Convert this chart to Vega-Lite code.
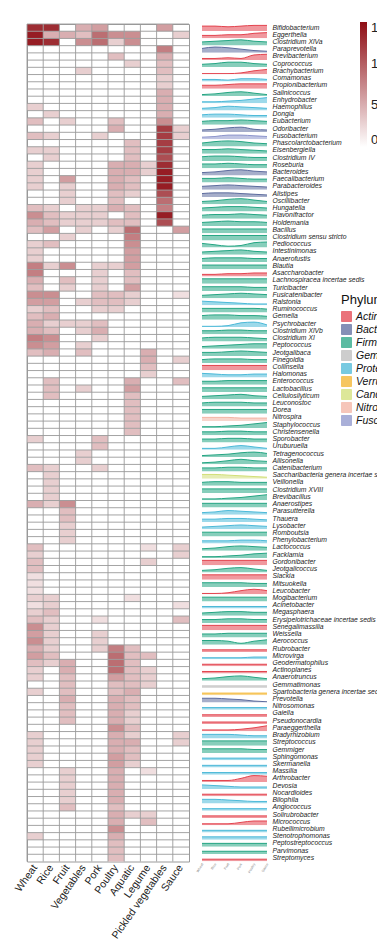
{
"$schema": "https://vega.github.io/schema/vega-lite/v6.json",
"background": "white",
"padding": {"left": 12, "top": 21, "right": 0, "bottom": 0},
"bounds": "flush",
"spacing": 13,
"datasets": {
"ridges": [
{"i":0,"g":"Bifidobacterium","p":"Actinobacteria","a":7,"b":7,"c":6,"d":7,"e":8,"f":8},
{"i":1,"g":"Eggerthella","p":"Actinobacteria","a":4,"b":4,"c":5,"d":5,"e":7,"f":8},
{"i":2,"g":"Clostridium XlVa","p":"Firmicutes","a":5,"b":6,"c":7,"d":8,"e":6,"f":5},
{"i":3,"g":"Paraprevotella","p":"Bacteroidetes","a":6,"b":8,"c":7,"d":5,"e":3,"f":2},
{"i":4,"g":"Brevibacterium","p":"Actinobacteria","a":2,"b":2,"c":3,"d":2,"e":7,"f":8},
{"i":5,"g":"Coprococcus","p":"Firmicutes","a":4,"b":5,"c":7,"d":7,"e":5,"f":4},
{"i":6,"g":"Brachybacterium","p":"Actinobacteria","a":1,"b":1,"c":1,"d":2,"e":5,"f":7},
{"i":7,"g":"Comamonas","p":"Proteobacteria","a":3,"b":3,"c":2,"d":4,"e":4,"f":3},
{"i":8,"g":"Propionibacterium","p":"Actinobacteria","a":5,"b":5,"c":6,"d":7,"e":7,"f":7},
{"i":9,"g":"Salinicoccus","p":"Firmicutes","a":2,"b":3,"c":5,"d":6,"e":4,"f":2},
{"i":10,"g":"Enhydrobacter","p":"Proteobacteria","a":2,"b":2,"c":3,"d":4,"e":6,"f":8},
{"i":11,"g":"Haemophilus","p":"Proteobacteria","a":3,"b":4,"c":6,"d":5,"e":4,"f":3},
{"i":12,"g":"Dongia","p":"Proteobacteria","a":4,"b":5,"c":5,"d":4,"e":3,"f":3},
{"i":13,"g":"Eubacterium","p":"Firmicutes","a":5,"b":6,"c":6,"d":7,"e":6,"f":5},
{"i":14,"g":"Odoribacter","p":"Bacteroidetes","a":3,"b":4,"c":6,"d":7,"e":4,"f":3},
{"i":15,"g":"Fusobacterium","p":"Fusobacteria","a":3,"b":4,"c":6,"d":6,"e":5,"f":4},
{"i":16,"g":"Phascolarctobacterium","p":"Firmicutes","a":5,"b":7,"c":8,"d":7,"e":5,"f":4},
{"i":17,"g":"Eisenbergiella","p":"Firmicutes","a":6,"b":6,"c":7,"d":6,"e":5,"f":4},
{"i":18,"g":"Clostridium IV","p":"Firmicutes","a":6,"b":7,"c":7,"d":6,"e":5,"f":5},
{"i":19,"g":"Roseburia","p":"Firmicutes","a":6,"b":6,"c":7,"d":6,"e":5,"f":5},
{"i":20,"g":"Bacteroides","p":"Bacteroidetes","a":4,"b":5,"c":7,"d":8,"e":6,"f":5},
{"i":21,"g":"Faecalibacterium","p":"Firmicutes","a":6,"b":6,"c":7,"d":6,"e":5,"f":5},
{"i":22,"g":"Parabacteroides","p":"Bacteroidetes","a":5,"b":6,"c":7,"d":6,"e":5,"f":4},
{"i":23,"g":"Alistipes","p":"Bacteroidetes","a":5,"b":6,"c":6,"d":5,"e":4,"f":3},
{"i":24,"g":"Oscillibacter","p":"Firmicutes","a":4,"b":5,"c":7,"d":8,"e":6,"f":4},
{"i":25,"g":"Hungatella","p":"Firmicutes","a":5,"b":6,"c":7,"d":7,"e":6,"f":5},
{"i":26,"g":"Flavonifractor","p":"Firmicutes","a":5,"b":6,"c":6,"d":7,"e":6,"f":5},
{"i":27,"g":"Holdemania","p":"Firmicutes","a":5,"b":6,"c":7,"d":6,"e":6,"f":5},
{"i":28,"g":"Bacillus","p":"Firmicutes","a":6,"b":6,"c":6,"d":6,"e":6,"f":6},
{"i":29,"g":"Clostridium sensu  stricto","p":"Firmicutes","a":7,"b":7,"c":7,"d":7,"e":7,"f":7},
{"i":30,"g":"Pediococcus","p":"Firmicutes","a":6,"b":4,"c":2,"d":3,"e":7,"f":8},
{"i":31,"g":"Intestinimonas","p":"Firmicutes","a":4,"b":5,"c":6,"d":7,"e":5,"f":4},
{"i":32,"g":"Anaerofustis","p":"Firmicutes","a":5,"b":6,"c":6,"d":6,"e":5,"f":5},
{"i":33,"g":"Blautia","p":"Firmicutes","a":6,"b":6,"c":6,"d":6,"e":6,"f":6},
{"i":34,"g":"Asaccharobacter","p":"Actinobacteria","a":3,"b":3,"c":4,"d":4,"e":5,"f":5},
{"i":35,"g":"Lachnospiracea  incertae sedis","p":"Firmicutes","a":7,"b":7,"c":7,"d":7,"e":7,"f":7},
{"i":36,"g":"Turicibacter","p":"Firmicutes","a":6,"b":6,"c":6,"d":6,"e":5,"f":5},
{"i":37,"g":"Fusicatenibacter","p":"Firmicutes","a":4,"b":5,"c":6,"d":7,"e":6,"f":5},
{"i":38,"g":"Ralstonia","p":"Proteobacteria","a":6,"b":5,"c":4,"d":3,"e":2,"f":2},
{"i":39,"g":"Ruminococcus","p":"Firmicutes","a":6,"b":6,"c":6,"d":6,"e":6,"f":5},
{"i":40,"g":"Gemella","p":"Firmicutes","a":6,"b":7,"c":7,"d":6,"e":6,"f":5},
{"i":41,"g":"Psychrobacter","p":"Proteobacteria","a":1,"b":1,"c":2,"d":6,"e":7,"f":3},
{"i":42,"g":"Clostridium XlVb","p":"Firmicutes","a":5,"b":5,"c":6,"d":6,"e":5,"f":5},
{"i":43,"g":"Clostridium XI","p":"Firmicutes","a":5,"b":6,"c":6,"d":6,"e":5,"f":4},
{"i":44,"g":"Peptococcus","p":"Firmicutes","a":3,"b":4,"c":5,"d":6,"e":7,"f":7},
{"i":45,"g":"Jeotgalibaca","p":"Firmicutes","a":5,"b":5,"c":6,"d":7,"e":6,"f":5},
{"i":46,"g":"Finegoldia","p":"Firmicutes","a":5,"b":6,"c":6,"d":6,"e":5,"f":5},
{"i":47,"g":"Collinsella","p":"Actinobacteria","a":7,"b":7,"c":7,"d":7,"e":7,"f":7},
{"i":48,"g":"Halomonas","p":"Proteobacteria","a":6,"b":5,"c":4,"d":4,"e":5,"f":5},
{"i":49,"g":"Enterococcus","p":"Firmicutes","a":5,"b":5,"c":6,"d":6,"e":6,"f":6},
{"i":50,"g":"Lactobacillus","p":"Firmicutes","a":6,"b":6,"c":6,"d":6,"e":6,"f":6},
{"i":51,"g":"Cellulosilyticum","p":"Firmicutes","a":4,"b":5,"c":6,"d":7,"e":5,"f":4},
{"i":52,"g":"Leuconostoc","p":"Firmicutes","a":5,"b":6,"c":6,"d":6,"e":5,"f":5},
{"i":53,"g":"Dorea","p":"Firmicutes","a":6,"b":6,"c":6,"d":6,"e":6,"f":6},
{"i":54,"g":"Nitrospira","p":"Nitrospirae","a":5,"b":5,"c":5,"d":4,"e":4,"f":4},
{"i":55,"g":"Staphylococcus","p":"Firmicutes","a":2,"b":2,"c":3,"d":4,"e":6,"f":8},
{"i":56,"g":"Christensenella","p":"Firmicutes","a":5,"b":5,"c":6,"d":6,"e":5,"f":5},
{"i":57,"g":"Sporobacter","p":"Firmicutes","a":5,"b":5,"c":6,"d":6,"e":5,"f":5},
{"i":58,"g":"Uruburuella","p":"Proteobacteria","a":2,"b":2,"c":4,"d":6,"e":4,"f":2},
{"i":59,"g":"Tetragenococcus","p":"Firmicutes","a":2,"b":3,"c":4,"d":6,"e":7,"f":5},
{"i":60,"g":"Allisonella","p":"Firmicutes","a":2,"b":3,"c":5,"d":7,"e":5,"f":4},
{"i":61,"g":"Catenibacterium","p":"Firmicutes","a":5,"b":5,"c":6,"d":6,"e":5,"f":5},
{"i":62,"g":"Saccharibacteria  genera  incertae sedis","p":"Candidatus Saccharibacteria","a":6,"b":6,"c":5,"d":4,"e":3,"f":2},
{"i":63,"g":"Veillonella","p":"Firmicutes","a":5,"b":6,"c":6,"d":5,"e":5,"f":5},
{"i":64,"g":"Clostridium XVIII","p":"Firmicutes","a":6,"b":6,"c":6,"d":6,"e":6,"f":6},
{"i":65,"g":"Brevibacillus","p":"Firmicutes","a":2,"b":2,"c":3,"d":4,"e":6,"f":8},
{"i":66,"g":"Anaerostipes","p":"Firmicutes","a":6,"b":6,"c":6,"d":6,"e":6,"f":6},
{"i":67,"g":"Parasutterella","p":"Proteobacteria","a":3,"b":4,"c":6,"d":5,"e":4,"f":3},
{"i":68,"g":"Thauera","p":"Proteobacteria","a":4,"b":4,"c":5,"d":5,"e":4,"f":3},
{"i":69,"g":"Lysobacter","p":"Proteobacteria","a":3,"b":4,"c":5,"d":6,"e":5,"f":4},
{"i":70,"g":"Romboutsia","p":"Firmicutes","a":6,"b":6,"c":6,"d":6,"e":6,"f":6},
{"i":71,"g":"Phenylobacterium","p":"Proteobacteria","a":4,"b":4,"c":4,"d":5,"e":5,"f":4},
{"i":72,"g":"Lactococcus","p":"Firmicutes","a":3,"b":4,"c":6,"d":7,"e":6,"f":5},
{"i":73,"g":"Facklamia","p":"Firmicutes","a":2,"b":2,"c":3,"d":4,"e":6,"f":7},
{"i":74,"g":"Gordonibacter","p":"Actinobacteria","a":7,"b":7,"c":7,"d":7,"e":7,"f":7},
{"i":75,"g":"Jeotgalicoccus","p":"Firmicutes","a":3,"b":4,"c":6,"d":7,"e":5,"f":3},
{"i":76,"g":"Slackia","p":"Actinobacteria","a":7,"b":7,"c":7,"d":7,"e":7,"f":7},
{"i":77,"g":"Mitsuokella","p":"Firmicutes","a":6,"b":6,"c":6,"d":6,"e":5,"f":5},
{"i":78,"g":"Leucobacter","p":"Actinobacteria","a":1,"b":1,"c":2,"d":5,"e":7,"f":5},
{"i":79,"g":"Mogibacterium","p":"Firmicutes","a":6,"b":6,"c":6,"d":6,"e":6,"f":6},
{"i":80,"g":"Acinetobacter","p":"Proteobacteria","a":3,"b":3,"c":3,"d":3,"e":3,"f":3},
{"i":81,"g":"Megasphaera","p":"Firmicutes","a":4,"b":5,"c":6,"d":6,"e":5,"f":5},
{"i":82,"g":"Erysipelotrichaceae  incertae  sedis","p":"Firmicutes","a":5,"b":5,"c":6,"d":6,"e":5,"f":5},
{"i":83,"g":"Senegalimassilia","p":"Actinobacteria","a":7,"b":7,"c":7,"d":7,"e":7,"f":7},
{"i":84,"g":"Weissella","p":"Firmicutes","a":5,"b":5,"c":6,"d":6,"e":6,"f":6},
{"i":85,"g":"Aerococcus","p":"Firmicutes","a":6,"b":6,"c":5,"d":2,"e":5,"f":7},
{"i":86,"g":"Rubrobacter","p":"Actinobacteria","a":3,"b":3,"c":3,"d":3,"e":3,"f":3},
{"i":87,"g":"Microvirga","p":"Proteobacteria","a":2,"b":2,"c":2,"d":2,"e":3,"f":3},
{"i":88,"g":"Geodermatophilus","p":"Actinobacteria","a":3,"b":3,"c":3,"d":3,"e":3,"f":3},
{"i":89,"g":"Actinoplanes","p":"Actinobacteria","a":3,"b":3,"c":3,"d":3,"e":3,"f":3},
{"i":90,"g":"Anaerotruncus","p":"Firmicutes","a":3,"b":4,"c":6,"d":7,"e":5,"f":3},
{"i":91,"g":"Gemmatimonas","p":"Gemmatimonadetes","a":3,"b":3,"c":3,"d":3,"e":3,"f":3},
{"i":92,"g":"Spartobacteria  genera  incertae  sedis","p":"Verrucomicrobia","a":3,"b":3,"c":3,"d":3,"e":3,"f":3},
{"i":93,"g":"Prevotella","p":"Bacteroidetes","a":6,"b":6,"c":5,"d":4,"e":2,"f":1},
{"i":94,"g":"Nitrosomonas","p":"Proteobacteria","a":3,"b":3,"c":3,"d":3,"e":3,"f":3},
{"i":95,"g":"Gaiella","p":"Actinobacteria","a":3,"b":3,"c":3,"d":3,"e":3,"f":3},
{"i":96,"g":"Pseudonocardia","p":"Actinobacteria","a":3,"b":3,"c":3,"d":3,"e":3,"f":3},
{"i":97,"g":"Paraeggerthella","p":"Actinobacteria","a":2,"b":2,"c":2,"d":3,"e":5,"f":8},
{"i":98,"g":"Bradyrhizobium","p":"Proteobacteria","a":6,"b":6,"c":6,"d":5,"e":4,"f":4},
{"i":99,"g":"Streptococcus","p":"Firmicutes","a":7,"b":7,"c":7,"d":7,"e":7,"f":7},
{"i":100,"g":"Gemmiger","p":"Firmicutes","a":6,"b":6,"c":6,"d":6,"e":5,"f":5},
{"i":101,"g":"Sphingomonas","p":"Proteobacteria","a":3,"b":3,"c":3,"d":3,"e":3,"f":3},
{"i":102,"g":"Skermanella","p":"Proteobacteria","a":3,"b":3,"c":3,"d":3,"e":3,"f":3},
{"i":103,"g":"Massilia","p":"Proteobacteria","a":3,"b":3,"c":3,"d":3,"e":3,"f":3},
{"i":104,"g":"Arthrobacter","p":"Actinobacteria","a":2,"b":2,"c":2,"d":5,"e":9,"f":8},
{"i":105,"g":"Devosia","p":"Proteobacteria","a":6,"b":5,"c":4,"d":3,"e":3,"f":3},
{"i":106,"g":"Nocardioides","p":"Actinobacteria","a":3,"b":3,"c":3,"d":3,"e":3,"f":3},
{"i":107,"g":"Bilophila","p":"Proteobacteria","a":6,"b":6,"c":5,"d":4,"e":3,"f":3},
{"i":108,"g":"Angiococcus","p":"Proteobacteria","a":3,"b":3,"c":3,"d":3,"e":3,"f":3},
{"i":109,"g":"Solirubrobacter","p":"Actinobacteria","a":3,"b":3,"c":3,"d":3,"e":3,"f":3},
{"i":110,"g":"Micrococcus","p":"Actinobacteria","a":2,"b":2,"c":2,"d":4,"e":6,"f":6},
{"i":111,"g":"Rubellimicrobium","p":"Proteobacteria","a":3,"b":3,"c":3,"d":3,"e":3,"f":3},
{"i":112,"g":"Stenotrophomonas","p":"Proteobacteria","a":4,"b":4,"c":4,"d":4,"e":4,"f":4},
{"i":113,"g":"Peptostreptococcus","p":"Firmicutes","a":5,"b":5,"c":5,"d":5,"e":5,"f":5},
{"i":114,"g":"Parvimonas","p":"Firmicutes","a":4,"b":4,"c":4,"d":4,"e":4,"f":4},
{"i":115,"g":"Streptomyces","p":"Actinobacteria","a":3,"b":3,"c":3,"d":3,"e":3,"f":3}
],
"cells": [
{"i":0,"f":"Wheat","v":13},{"i":0,"f":"Rice","v":13},{"i":0,"f":"Vegetables","v":5},{"i":0,"f":"Pork","v":6},{"i":0,"f":"Pickled vegetables","v":6},
{"i":1,"f":"Wheat","v":14},{"i":1,"f":"Rice","v":5},{"i":1,"f":"Fruit","v":5},{"i":1,"f":"Vegetables","v":4},{"i":1,"f":"Pork","v":9},{"i":1,"f":"Poultry","v":7},{"i":1,"f":"Aquatic","v":7},{"i":1,"f":"Sauce","v":3},
{"i":2,"f":"Wheat","v":14},{"i":2,"f":"Rice","v":13},{"i":2,"f":"Vegetables","v":7},{"i":2,"f":"Pork","v":9},{"i":2,"f":"Poultry","v":3},{"i":2,"f":"Aquatic","v":7},
{"i":3,"f":"Pickled vegetables","v":8},
{"i":4,"f":"Poultry","v":4},{"i":4,"f":"Pickled vegetables","v":5},
{"i":5,"f":"Aquatic","v":3},{"i":5,"f":"Pickled vegetables","v":4},
{"i":6,"f":"Vegetables","v":3},{"i":6,"f":"Pickled vegetables","v":4},
{"i":7,"f":"Pickled vegetables","v":3},
{"i":8,"f":"Pickled vegetables","v":3},
{"i":9,"f":"Pickled vegetables","v":5},
{"i":10,"f":"Pickled vegetables","v":5},
{"i":11,"f":"Wheat","v":3},{"i":11,"f":"Pickled vegetables","v":5},
{"i":12,"f":"Rice","v":3},{"i":12,"f":"Pickled vegetables","v":5},
{"i":13,"f":"Wheat","v":4},{"i":13,"f":"Fruit","v":3},{"i":13,"f":"Poultry","v":4},{"i":13,"f":"Pickled vegetables","v":7},
{"i":14,"f":"Poultry","v":5},{"i":14,"f":"Pickled vegetables","v":12},{"i":14,"f":"Sauce","v":3},
{"i":15,"f":"Wheat","v":4},{"i":15,"f":"Rice","v":3},{"i":15,"f":"Pork","v":3},{"i":15,"f":"Pickled vegetables","v":12},{"i":15,"f":"Sauce","v":3},
{"i":16,"f":"Aquatic","v":4},{"i":16,"f":"Pickled vegetables","v":12},
{"i":17,"f":"Wheat","v":3},{"i":17,"f":"Rice","v":3},{"i":17,"f":"Aquatic","v":4},{"i":17,"f":"Pickled vegetables","v":12},
{"i":18,"f":"Rice","v":3},{"i":18,"f":"Aquatic","v":4},{"i":18,"f":"Pickled vegetables","v":11},
{"i":19,"f":"Wheat","v":3},{"i":19,"f":"Poultry","v":5},{"i":19,"f":"Aquatic","v":5},{"i":19,"f":"Legume","v":3},{"i":19,"f":"Pickled vegetables","v":13},
{"i":20,"f":"Wheat","v":3},{"i":20,"f":"Poultry","v":5},{"i":20,"f":"Aquatic","v":5},{"i":20,"f":"Legume","v":3},{"i":20,"f":"Pickled vegetables","v":14},
{"i":21,"f":"Wheat","v":3},{"i":21,"f":"Fruit","v":6},{"i":21,"f":"Poultry","v":5},{"i":21,"f":"Aquatic","v":4},{"i":21,"f":"Pickled vegetables","v":14},
{"i":22,"f":"Wheat","v":3},{"i":22,"f":"Fruit","v":3},{"i":22,"f":"Poultry","v":5},{"i":22,"f":"Aquatic","v":4},{"i":22,"f":"Pickled vegetables","v":14},
{"i":23,"f":"Fruit","v":3},{"i":23,"f":"Poultry","v":4},{"i":23,"f":"Aquatic","v":3},{"i":23,"f":"Pickled vegetables","v":11},
{"i":24,"f":"Fruit","v":3},{"i":24,"f":"Poultry","v":4},{"i":24,"f":"Pickled vegetables","v":9},
{"i":25,"f":"Wheat","v":4},{"i":25,"f":"Rice","v":3},{"i":25,"f":"Vegetables","v":3},{"i":25,"f":"Pork","v":3},{"i":25,"f":"Poultry","v":5},{"i":25,"f":"Aquatic","v":4},{"i":25,"f":"Pickled vegetables","v":8},
{"i":26,"f":"Wheat","v":7},{"i":26,"f":"Rice","v":4},{"i":26,"f":"Fruit","v":3},{"i":26,"f":"Vegetables","v":3},{"i":26,"f":"Pork","v":3},{"i":26,"f":"Aquatic","v":4},{"i":26,"f":"Pickled vegetables","v":14},
{"i":27,"f":"Wheat","v":5},{"i":27,"f":"Rice","v":4},{"i":27,"f":"Fruit","v":3},{"i":27,"f":"Vegetables","v":3},{"i":27,"f":"Pork","v":3},{"i":27,"f":"Poultry","v":4},{"i":27,"f":"Aquatic","v":4},{"i":27,"f":"Pickled vegetables","v":11},
{"i":28,"f":"Wheat","v":4},{"i":28,"f":"Rice","v":6},{"i":28,"f":"Vegetables","v":3},{"i":28,"f":"Poultry","v":3},{"i":28,"f":"Aquatic","v":9},{"i":28,"f":"Sauce","v":6},
{"i":29,"f":"Fruit","v":3},{"i":29,"f":"Aquatic","v":8},
{"i":30,"f":"Wheat","v":3},{"i":30,"f":"Rice","v":4},{"i":30,"f":"Aquatic","v":7},
{"i":31,"f":"Wheat","v":3},{"i":31,"f":"Aquatic","v":6},
{"i":32,"f":"Wheat","v":3},{"i":32,"f":"Aquatic","v":6},
{"i":33,"f":"Wheat","v":8},{"i":33,"f":"Rice","v":3},{"i":33,"f":"Fruit","v":7},{"i":33,"f":"Pork","v":3},{"i":33,"f":"Poultry","v":3},{"i":33,"f":"Aquatic","v":6},
{"i":34,"f":"Wheat","v":8},{"i":34,"f":"Pork","v":3},{"i":34,"f":"Aquatic","v":4},
{"i":35,"f":"Wheat","v":5},{"i":35,"f":"Fruit","v":4},{"i":35,"f":"Pork","v":3},{"i":35,"f":"Aquatic","v":4},
{"i":36,"f":"Wheat","v":4},{"i":36,"f":"Fruit","v":3},{"i":36,"f":"Pork","v":3},{"i":36,"f":"Aquatic","v":6},
{"i":37,"f":"Wheat","v":7},{"i":37,"f":"Rice","v":7},{"i":37,"f":"Pork","v":4},{"i":37,"f":"Poultry","v":4},{"i":37,"f":"Aquatic","v":3},{"i":37,"f":"Sauce","v":2},
{"i":38,"f":"Wheat","v":6},{"i":38,"f":"Rice","v":6},{"i":38,"f":"Vegetables","v":3},{"i":38,"f":"Pork","v":4},{"i":38,"f":"Poultry","v":4},{"i":38,"f":"Aquatic","v":3},
{"i":39,"f":"Wheat","v":3},{"i":39,"f":"Rice","v":4},{"i":39,"f":"Pork","v":3},{"i":39,"f":"Poultry","v":3},
{"i":40,"f":"Wheat","v":4},{"i":40,"f":"Rice","v":5},
{"i":41,"f":"Wheat","v":5},{"i":41,"f":"Rice","v":3},{"i":41,"f":"Fruit","v":3},{"i":41,"f":"Vegetables","v":3},{"i":41,"f":"Pork","v":4},
{"i":42,"f":"Wheat","v":5},{"i":42,"f":"Rice","v":4},{"i":42,"f":"Vegetables","v":3},{"i":42,"f":"Pork","v":5},
{"i":43,"f":"Wheat","v":8},{"i":43,"f":"Rice","v":7},{"i":43,"f":"Pork","v":3},
{"i":44,"f":"Wheat","v":7},{"i":44,"f":"Rice","v":6},{"i":44,"f":"Vegetables","v":3},
{"i":45,"f":"Wheat","v":4},{"i":45,"f":"Rice","v":5},{"i":45,"f":"Vegetables","v":4},{"i":45,"f":"Legume","v":5},
{"i":46,"f":"Legume","v":5},{"i":46,"f":"Sauce","v":3},
{"i":47,"f":"Legume","v":4},
{"i":48,"f":"Legume","v":3},
{"i":49,"f":"Rice","v":4},{"i":49,"f":"Aquatic","v":5},{"i":49,"f":"Sauce","v":4},
{"i":50,"f":"Rice","v":4},{"i":50,"f":"Vegetables","v":3},{"i":50,"f":"Aquatic","v":6},
{"i":51,"f":"Rice","v":4},{"i":51,"f":"Aquatic","v":4},
{"i":52,"f":"Aquatic","v":4},{"i":53,"f":"Aquatic","v":4},{"i":54,"f":"Aquatic","v":4},{"i":55,"f":"Aquatic","v":4},{"i":56,"f":"Aquatic","v":4},
{"i":57,"f":"Wheat","v":3},{"i":57,"f":"Pork","v":4},
{"i":58,"f":"Pork","v":4},
{"i":59,"f":"Vegetables","v":3},
{"i":60,"f":"Vegetables","v":3},
{"i":61,"f":"Wheat","v":4},{"i":61,"f":"Rice","v":3},{"i":61,"f":"Pork","v":3},
{"i":62,"f":"Rice","v":3},{"i":63,"f":"Rice","v":3},{"i":64,"f":"Rice","v":3},{"i":65,"f":"Rice","v":3},
{"i":66,"f":"Wheat","v":5},{"i":66,"f":"Rice","v":3},{"i":66,"f":"Fruit","v":7},
{"i":67,"f":"Fruit","v":4},{"i":68,"f":"Fruit","v":4},{"i":69,"f":"Fruit","v":3},{"i":70,"f":"Fruit","v":3},{"i":71,"f":"Fruit","v":3},
{"i":72,"f":"Wheat","v":4},{"i":72,"f":"Legume","v":2},{"i":72,"f":"Sauce","v":3},
{"i":73,"f":"Wheat","v":3},{"i":73,"f":"Sauce","v":3},
{"i":74,"f":"Wheat","v":4},{"i":74,"f":"Legume","v":3},
{"i":75,"f":"Wheat","v":4},
{"i":76,"f":"Wheat","v":2},{"i":77,"f":"Wheat","v":2},{"i":78,"f":"Wheat","v":2},
{"i":79,"f":"Wheat","v":3},{"i":79,"f":"Rice","v":3},{"i":79,"f":"Aquatic","v":2},
{"i":80,"f":"Wheat","v":2},{"i":80,"f":"Rice","v":3},{"i":80,"f":"Sauce","v":2},
{"i":81,"f":"Wheat","v":3},{"i":81,"f":"Rice","v":4},
{"i":82,"f":"Wheat","v":4},{"i":82,"f":"Rice","v":3},{"i":82,"f":"Pork","v":2},{"i":82,"f":"Sauce","v":4},
{"i":83,"f":"Wheat","v":7},{"i":83,"f":"Rice","v":3},
{"i":84,"f":"Wheat","v":6},{"i":84,"f":"Rice","v":3},{"i":84,"f":"Pork","v":3},
{"i":85,"f":"Wheat","v":7},{"i":85,"f":"Rice","v":3},{"i":85,"f":"Pork","v":3},
{"i":86,"f":"Wheat","v":5},{"i":86,"f":"Rice","v":3},{"i":86,"f":"Pork","v":3},{"i":86,"f":"Poultry","v":8},{"i":86,"f":"Aquatic","v":4},
{"i":87,"f":"Wheat","v":6},{"i":87,"f":"Rice","v":4},{"i":87,"f":"Poultry","v":9},{"i":87,"f":"Aquatic","v":4},{"i":87,"f":"Legume","v":4},
{"i":88,"f":"Wheat","v":4},{"i":88,"f":"Rice","v":3},{"i":88,"f":"Fruit","v":5},{"i":88,"f":"Poultry","v":9},{"i":88,"f":"Aquatic","v":4},
{"i":89,"f":"Wheat","v":3},{"i":89,"f":"Fruit","v":5},{"i":89,"f":"Poultry","v":9},{"i":89,"f":"Aquatic","v":4},{"i":89,"f":"Legume","v":3},
{"i":90,"f":"Wheat","v":3},{"i":90,"f":"Fruit","v":4},{"i":90,"f":"Poultry","v":6},{"i":90,"f":"Aquatic","v":4},{"i":90,"f":"Legume","v":3},
{"i":91,"f":"Fruit","v":4},{"i":91,"f":"Poultry","v":4},{"i":91,"f":"Aquatic","v":4},{"i":91,"f":"Legume","v":3},
{"i":92,"f":"Wheat","v":3},{"i":92,"f":"Fruit","v":4},{"i":92,"f":"Poultry","v":4},{"i":92,"f":"Aquatic","v":5},
{"i":93,"f":"Fruit","v":5},{"i":93,"f":"Poultry","v":5},{"i":93,"f":"Aquatic","v":4},
{"i":94,"f":"Fruit","v":4},{"i":94,"f":"Poultry","v":5},{"i":94,"f":"Aquatic","v":4},
{"i":95,"f":"Fruit","v":4},{"i":95,"f":"Poultry","v":5},{"i":95,"f":"Aquatic","v":3},
{"i":96,"f":"Fruit","v":4},{"i":96,"f":"Poultry","v":5},{"i":96,"f":"Aquatic","v":3},
{"i":97,"f":"Poultry","v":7},{"i":97,"f":"Aquatic","v":4},
{"i":98,"f":"Wheat","v":3},{"i":98,"f":"Poultry","v":5},{"i":98,"f":"Aquatic","v":3},{"i":98,"f":"Sauce","v":3},
{"i":99,"f":"Wheat","v":3},{"i":99,"f":"Poultry","v":5},{"i":99,"f":"Aquatic","v":5},{"i":99,"f":"Sauce","v":3},
{"i":100,"f":"Wheat","v":3},{"i":100,"f":"Poultry","v":5},{"i":100,"f":"Aquatic","v":4},
{"i":101,"f":"Wheat","v":3},{"i":101,"f":"Poultry","v":6},{"i":101,"f":"Aquatic","v":4},
{"i":102,"f":"Wheat","v":3},{"i":102,"f":"Poultry","v":6},{"i":102,"f":"Aquatic","v":3},
{"i":103,"f":"Fruit","v":3},{"i":103,"f":"Poultry","v":5},{"i":103,"f":"Legume","v":2},
{"i":104,"f":"Fruit","v":3},{"i":104,"f":"Poultry","v":5},
{"i":105,"f":"Fruit","v":3},{"i":105,"f":"Poultry","v":5},
{"i":106,"f":"Fruit","v":3},{"i":106,"f":"Poultry","v":5},
{"i":107,"f":"Fruit","v":3},{"i":107,"f":"Poultry","v":5},
{"i":108,"f":"Fruit","v":4},{"i":108,"f":"Poultry","v":4},
{"i":109,"f":"Poultry","v":5},{"i":109,"f":"Aquatic","v":3},{"i":109,"f":"Legume","v":3},
{"i":110,"f":"Poultry","v":5},{"i":110,"f":"Legume","v":4},
{"i":111,"f":"Poultry","v":7},
{"i":112,"f":"Wheat","v":3},{"i":112,"f":"Poultry","v":5},
{"i":113,"f":"Poultry","v":4},{"i":114,"f":"Poultry","v":4},{"i":115,"f":"Poultry","v":4}
]
},
"hconcat": [
{
"width": 162,
"height": 837.5,
"view": {"stroke": "#9a9a9a", "strokeWidth": 1},
"layer": [
{
"data": {"name": "cells"},
"mark": {"type": "rect"},
"encoding": {
"x": {"field": "f", "type": "nominal", "sort": ["Wheat","Rice","Fruit","Vegetables","Pork","Poultry","Aquatic","Legume","Pickled vegetables","Sauce"], "scale": {"type": "band", "paddingInner": 0, "paddingOuter": 0},
"axis": {"title": null, "labelAngle": -55, "labelAlign": "right", "labelBaseline": "middle", "labelFontSize": 10.5, "labelColor": "#222", "ticks": false, "domain": false, "labelPadding": 4, "labelFont": "Liberation Sans"}},
"y": {"field": "i", "type": "ordinal", "scale": {"type": "band", "paddingInner": 0, "paddingOuter": 0}, "axis": null},
"color": {"field": "v", "type": "quantitative", "scale": {"domain": [0, 15], "range": ["#ffffff", "#8e0d14"], "interpolate": "rgb"},
"legend": {"orient": "none", "legendX": 333, "legendY": -2, "direction": "vertical", "gradientLength": 125, "gradientThickness": 7, "title": null, "values": [0, 5, 10, 15], "labelFontSize": 13, "labelColor": "#222", "gradientStrokeWidth": 0, "labelOffset": 4}}
}
},
{
"data": {"name": "ridges"},
"mark": {"type": "rule", "color": "#9a9a9a", "strokeWidth": 0.9},
"encoding": {"y": {"field": "i", "type": "ordinal", "bandPosition": 0, "scale": {"type": "band", "paddingInner": 0, "paddingOuter": 0}}}
},
{
"data": {"values": [{"f":"Wheat"},{"f":"Rice"},{"f":"Fruit"},{"f":"Vegetables"},{"f":"Pork"},{"f":"Poultry"},{"f":"Aquatic"},{"f":"Legume"},{"f":"Pickled vegetables"},{"f":"Sauce"}]},
"mark": {"type": "rule", "color": "#9a9a9a", "strokeWidth": 0.9},
"encoding": {"x": {"field": "f", "type": "nominal", "bandPosition": 0, "sort": ["Wheat","Rice","Fruit","Vegetables","Pork","Poultry","Aquatic","Legume","Pickled vegetables","Sauce"], "scale": {"type": "band", "paddingInner": 0, "paddingOuter": 0}}}
}
]
},
{
"hconcat": [
{
"data": {"name": "ridges"},
"transform": [{"fold": ["a","b","c","d","e","f"], "as": ["k","r"]}],
"facet": {"row": {"field": "g", "type": "nominal", "sort": {"field": "i", "op": "min"}, "title": null, "header": {"labels": false}}},
"spacing": 0.22,
"spec": {
"width": 65,
"height": 7,
"view": {"stroke": null},
"layer": [
{
"mark": {"type": "area", "interpolate": "monotone", "fillOpacity": 0.55, "clip": true},
"encoding": {
"x": {"field": "k", "type": "ordinal", "scale": {"type": "point", "padding": 0},
"axis": {"title": null, "labelAngle": -60, "labelFontSize": 3.5, "labelColor": "#888", "ticks": false, "domain": false, "labelPadding": 1,
"labelExpr": "{'a':'Wheat','b':'Rice','c':'Fruit','d':'Pork','e':'Poultry','f':'Sauce'}[datum.value]"}},
"y": {"field": "r", "type": "quantitative", "scale": {"domain": [0, 10]}, "axis": null},
"color": {"field": "p", "type": "nominal",
"scale": {"domain": ["Actinobacteria","Bacteroidetes","Firmicutes","Gemmatimonadetes","Proteobacteria","Verrucomicrobia","Candidatus Saccharibacteria","Nitrospirae","Fusobacteria"],
"range": ["#e3434e","#5d6c9e","#25a583","#bdbdbd","#4cb9d8","#f4b42c","#d2df78","#f3b3a3","#8d95cc"]},
"legend": {"orient": "none", "legendX": 139, "legendY": 270, "title": "Phylum", "titleFontSize": 13, "titleFontWeight": "normal", "titleColor": "#111", "titlePadding": 4, "symbolType": "square", "symbolSize": 100, "symbolStrokeWidth": 1, "symbolOpacity": 0.75, "labelFontSize": 10.5, "labelFontStyle": "italic", "labelColor": "#111", "rowPadding": -5, "labelOffset": 4}}
}
},
{
"mark": {"type": "line", "interpolate": "monotone", "strokeWidth": 1, "clip": true},
"encoding": {
"x": {"field": "k", "type": "ordinal", "scale": {"type": "point", "padding": 0}},
"y": {"field": "r", "type": "quantitative", "scale": {"domain": [0, 10]}},
"color": {"field": "p", "type": "nominal"}
}
}
]
}
},
{
"width": 1,
"height": 837.5,
"view": {"stroke": null},
"data": {"name": "ridges"},
"mark": {"type": "rule", "opacity": 0},
"encoding": {
"y": {"field": "g", "type": "nominal", "sort": {"field": "i", "op": "min"}, "scale": {"paddingInner": 0, "paddingOuter": 0},
"axis": {"orient": "right", "title": null, "ticks": false, "domain": false, "labelFontSize": 6.8, "labelFontStyle": "italic", "labelColor": "#222", "labelPadding": 2, "labelLimit": 300, "labelFont": "Liberation Sans"}}
}
}
],
"spacing": 0
}
],
"resolve": {"scale": {"color": "independent"}, "legend": {"color": "independent"}},
"config": {"font": "Liberation Sans", "view": {"stroke": null}}
}
